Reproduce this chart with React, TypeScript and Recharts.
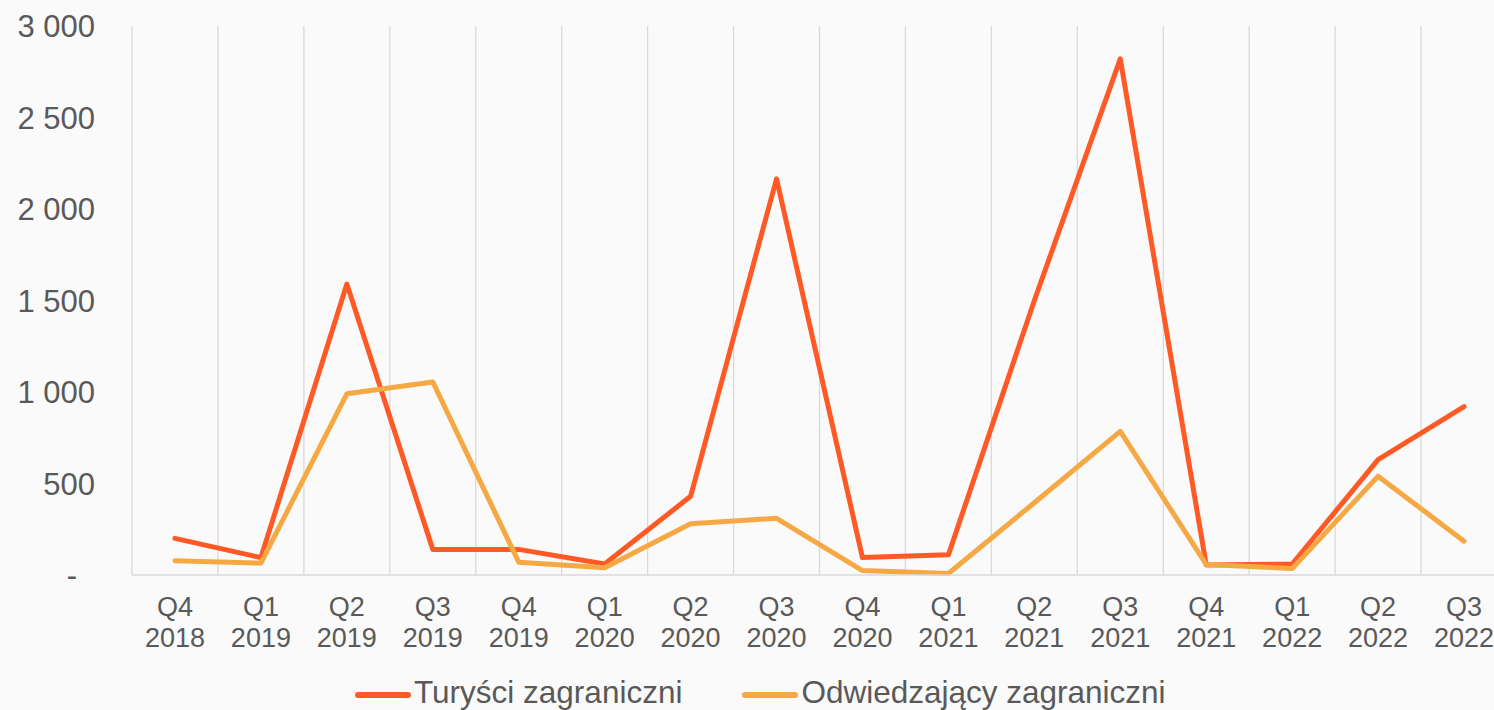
import React from 'react';
import {
  LineChart,
  Line,
  XAxis,
  YAxis,
  CartesianGrid,
  Legend,
} from 'recharts';

// quarters on the x axis, "Qn YYYY"
const quarters = [
  'Q4 2018', 'Q1 2019', 'Q2 2019', 'Q3 2019', 'Q4 2019', 'Q1 2020', 'Q2 2020', 'Q3 2020',
  'Q4 2020', 'Q1 2021', 'Q2 2021', 'Q3 2021', 'Q4 2021', 'Q1 2022', 'Q2 2022', 'Q3 2022',
];
const turysci = [200, 95, 1590, 140, 140, 60, 430, 2165, 95, 110, 1500, 2820, 55, 60, 630, 920];
const odwiedzajacy = [78, 65, 990, 1055, 70, 40, 280, 310, 24, 8, 395, 785, 58, 35, 540, 185];
const yTicks = [0, 500, 1000, 1500, 2000, 2500, 3000];
const seriesOrder = ['turysci', 'odwiedzajacy'];

const data = quarters.map((q, i) => ({
  label: q,
  turysci: turysci[i],
  odwiedzajacy: odwiedzajacy[i],
}));

const FONT = '"Liberation Sans", Arial, sans-serif';
const TEXT = '#595959';

const fmt = (v: number) => String(v).replace(/\B(?=(\d{3})+(?!\d))/g, ' ');

const XTick = ({ x, y, payload }: any) => {
  const [q, yr] = String(payload.value).split(' ');
  return (
    <text x={x} y={y} textAnchor="middle" fill={TEXT} fontSize={27} fontFamily={FONT}>
      <tspan x={x} dy={41}>{q}</tspan>
      <tspan x={x} dy={31}>{yr}</tspan>
    </text>
  );
};

const YTick = ({ x, y, payload }: any) => {
  const zero = payload.value === 0;
  return (
    <text
      x={zero ? x - 18 : x}
      y={y}
      dy="0.355em"
      textAnchor="end"
      fill={TEXT}
      fontSize={31}
      fontFamily={FONT}
    >
      {zero ? '-' : fmt(payload.value)}
    </text>
  );
};

const renderLegend = ({ payload }: any) => {
  const items = [...(payload || [])].sort(
    (a: any, b: any) => seriesOrder.indexOf(a.dataKey) - seriesOrder.indexOf(b.dataKey)
  );
  return (
    <div style={{ display: 'flex', alignItems: 'center', fontFamily: FONT }}>
      {items.map((item: any, i: number) => (
        <div key={i} style={{ display: 'flex', alignItems: 'center', marginRight: i === 0 ? 60 : 0 }}>
          <svg width={56} height={10} style={{ marginTop: 6 }}>
            <line x1={3} y1={5} x2={53} y2={5} stroke={item.color} strokeWidth={6} strokeLinecap="round" />
          </svg>
          <span style={{ fontSize: 31.5, color: TEXT, lineHeight: '36px', marginLeft: 3 }}>{item.value}</span>
        </div>
      ))}
    </div>
  );
};

const App: React.FC = () => {
  return (
    <div
      style={{
        position: 'absolute',
        left: 0,
        top: 0,
        width: 1494,
        height: 710,
        overflow: 'hidden',
        background: '#fafafa',
      }}
    >
      <LineChart width={1507} height={710} data={data} margin={{ top: 26, right: 0, bottom: 0, left: 0 }}>
        <CartesianGrid
          horizontal={false}
          stroke="#d9d9d9"
          strokeWidth={1.3}
          verticalCoordinatesGenerator={({ offset }: any) =>
            quarters.map((_, i) => offset.left + (i * offset.width) / quarters.length).concat(offset.left + offset.width)
          }
        />
        <XAxis
          dataKey="label"
          scale="band"
          interval={0}
          height={135}
          tickLine={false}
          tickSize={0}
          tickMargin={0}
          axisLine={{ stroke: '#d9d9d9', strokeWidth: 1.5 }}
          tick={<XTick />}
        />
        <YAxis
          width={132}
          domain={[0, 3000]}
          ticks={yTicks}
          axisLine={false}
          tickLine={false}
          tickSize={0}
          tickMargin={37}
          tick={<YTick />}
        />
        <Legend
          layout="horizontal"
          verticalAlign="middle"
          align="center"
          content={renderLegend}
          wrapperStyle={{ left: 355, top: 674, width: 'auto' }}
        />
        <Line
          type="linear"
          dataKey="turysci"
          name="Turyści zagraniczni"
          stroke="#ff5a26"
          strokeWidth={5}
          strokeLinecap="round"
          strokeLinejoin="round"
          dot={false}
          activeDot={false}
          isAnimationActive={false}
        />
        <Line
          type="linear"
          dataKey="odwiedzajacy"
          name="Odwiedzający zagraniczni"
          stroke="#f5a843"
          strokeWidth={5}
          strokeLinecap="round"
          strokeLinejoin="round"
          dot={false}
          activeDot={false}
          isAnimationActive={false}
        />
      </LineChart>
    </div>
  );
};

export default App;
